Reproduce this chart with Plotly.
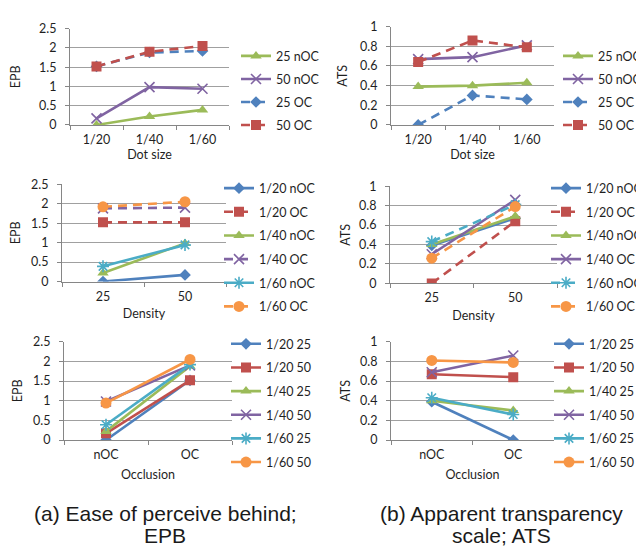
import plotly.graph_objects as go

# ---------------- data ----------------
dot_sizes = ["1/20", "1/40", "1/60"]
densities = ["25", "50"]
occlusions = ["nOC", "OC"]

# EPB by dot size
epb_25_noc = [0.0, 0.22, 0.39]
epb_50_noc = [0.17, 0.98, 0.94]
epb_25_oc = [1.52, 1.88, 1.92]
epb_50_oc = [1.52, 1.90, 2.05]

# ATS by dot size
ats_25_noc = [0.39, 0.40, 0.43]
ats_50_noc = [0.67, 0.69, 0.81]
ats_25_oc = [0.0, 0.30, 0.26]
ats_50_oc = [0.64, 0.86, 0.79]

top_names = ["25 nOC", "50 nOC", "25 OC", "50 OC"]
mid_names = ["1/20 nOC", "1/20 OC", "1/40 nOC", "1/40 OC", "1/60 nOC", "1/60 OC"]
bot_names = ["1/20 25", "1/20 50", "1/40 25", "1/40 50", "1/60 25", "1/60 50"]

epb_top = [epb_25_noc, epb_50_noc, epb_25_oc, epb_50_oc]
ats_top = [ats_25_noc, ats_50_noc, ats_25_oc, ats_50_oc]


def by_density(a25n, a50n, a25o, a50o):
    # series: dot size x occlusion, x = density
    out = []
    for i in range(3):
        out.append([a25n[i], a50n[i]])
        out.append([a25o[i], a50o[i]])
    return out


def by_occlusion(a25n, a50n, a25o, a50o):
    # series: dot size x density, x = occlusion
    out = []
    for i in range(3):
        out.append([a25n[i], a25o[i]])
        out.append([a50n[i], a50o[i]])
    return out


epb_mid = by_density(*epb_top)
ats_mid = by_density(*ats_top)
epb_bot = by_occlusion(*epb_top)
ats_bot = by_occlusion(*ats_top)

# ---------------- styles ----------------
BLUE, RED, GREEN, PURPLE, TEAL, ORANGE = "#4F81BD", "#C0504D", "#9BBB59", "#8064A2", "#4BACC6", "#F79646"
FONT = "Lato"
W, H = 644, 546

STY = {
    "green": (GREEN, "triangle-up", 10),
    "purple": (PURPLE, "x-thin", 10),
    "blue": (BLUE, "diamond", 9),
    "red": (RED, "square", 10),
    "teal": (TEAL, "asterisk", 10),
    "orange": (ORANGE, "circle", 11),
}

top_sty = [("green", "solid"), ("purple", "solid"), ("blue", "dash"), ("red", "dash")]
midL_sty = [("blue", "solid"), ("red", "dash"), ("green", "solid"), ("purple", "dash"), ("teal", "solid"), ("orange", "dash")]
midR_sty = [("blue", "solid"), ("red", "dash"), ("green", "solid"), ("purple", "solid"), ("teal", "dash"), ("orange", "dash")]
bot_sty = [("blue", "solid"), ("red", "solid"), ("green", "solid"), ("purple", "solid"), ("teal", "solid"), ("orange", "solid")]


def fx(p):
    return p / W


def fy(p):
    return 1 - p / H


# suffix, x dom px, y dom px (top,bottom), cats, ymax, dtick, xtitle, xtitle standoff, ytitle,
# ytitle standoff, legend id, legend pos px, names, series, styles, group gap
panels = [
    ("", (62, 221), (13, 112), dot_sizes, 2.5, 0.5, "Dot size", 0, "EPB", 15, "legend", (228, 26), top_names, epb_top, top_sty, 3.8),
    ("2", (383, 546), (11, 112), dot_sizes, 1.0, 0.2, "Dot size", 0, "ATS", 9, "legend2", (550, 26), top_names, ats_top, top_sty, 3.8),
    ("3", (54, 218), (173, 273), densities, 2.5, 0.5, "Density", 6, "EPB", 8, "legend3", (211, 162), mid_names, epb_mid, midL_sty, 4.4),
    ("4", (382, 549), (175, 275), densities, 1.0, 0.2, "Density", 6, "ATS", 5, "legend4", (538, 162), mid_names, ats_mid, midR_sty, 4.4),
    ("5", (56, 224), (335, 436), occlusions, 2.5, 0.5, "Occlusion", 9, "EPB", 7, "legend5", (218, 322), bot_names, epb_bot, bot_sty, 4.4),
    ("6", (383, 546), (335, 436), occlusions, 1.0, 0.2, "Occlusion", 9, "ATS", 6, "legend6", (541, 322), bot_names, ats_bot, bot_sty, 4.4),
]

fig = go.Figure()
layout = dict(
    width=W, height=H, margin=dict(l=0, r=0, t=0, b=0),
    paper_bgcolor="white", plot_bgcolor="white",
    font=dict(family=FONT, size=12, color="#1f1f1f"),
)

for (suf, xd, yd, cats, ymax, dt, xt, xsoff, yt, ysoff, lg, lpos, names, series, sty, gap) in panels:
    xa, ya = "x" + suf, "y" + suf
    for name, vals, (ck, dash) in zip(names, series, sty):
        col, sym, sz = STY[ck]
        lw = 1.6 if sym in ("x-thin", "asterisk") else 0
        fig.add_trace(go.Scatter(
            x=cats, y=vals, name=name, mode="lines+markers",
            xaxis=xa, yaxis=ya, legend=lg, legendgroup=lg + name,
            line=dict(color=col, width=2.6, dash="9px,6px" if dash == "dash" else "solid"),
            marker=dict(symbol=sym, size=sz, color=col, line=dict(color=col, width=lw)),
        ))
    layout["xaxis" + suf] = dict(
        domain=[fx(xd[0]), fx(xd[1])], anchor=ya, type="category",
        range=[-0.5, len(cats) - 0.5], tickson="boundaries", ticks="outside", ticklen=4,
        tickcolor="#868686", showline=True, linecolor="#868686", linewidth=1,
        showgrid=False, zeroline=False, tickfont=dict(size=12.5), ticklabelstandoff=3,
        title=dict(text=xt, standoff=xsoff, font=dict(size=12.5)),
    )
    layout["yaxis" + suf] = dict(
        domain=[fy(yd[1]), fy(yd[0])], anchor=xa, range=[0, ymax], dtick=dt,
        ticks="outside", ticklen=4, tickcolor="#868686", showline=True,
        linecolor="#868686", linewidth=1, showgrid=True, gridcolor="#a0a0a0",
        gridwidth=1, zeroline=False, tickfont=dict(size=12.5), ticklabelstandoff=6,
        title=dict(text=yt, standoff=ysoff, font=dict(size=12.5)),
    )
    layout[lg] = dict(
        x=fx(lpos[0]), y=fy(lpos[1]), xanchor="left", yanchor="top",
        bgcolor="rgba(0,0,0,0)", borderwidth=0, tracegroupgap=gap,
        traceorder="grouped", font=dict(size=12.5), itemwidth=30,
    )

fig.update_layout(**layout)

caption_lines = [
    ("(a) Ease of perceive behind;", 157, 512),
    ("EPB", 157, 534),
    ("(b) Apparent transparency", 494, 512),
    ("scale; ATS", 494, 534),
]
for text, cx, cy in caption_lines:
    fig.add_annotation(
        text=text, x=fx(cx), y=fy(cy), xref="paper", yref="paper",
        showarrow=False, xanchor="center", yanchor="middle",
        font=dict(family="Liberation Sans", size=21, color="#1a1a1a"),
    )

fig.write_html("out.html")
